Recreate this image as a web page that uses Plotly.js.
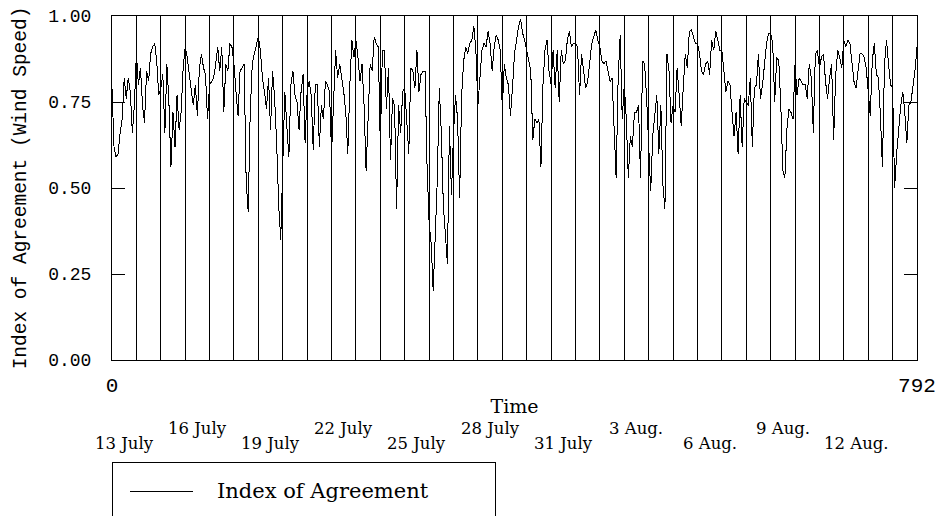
<!DOCTYPE html>
<html>
<head>
<meta charset="utf-8">
<script src="https://cdn.plot.ly/plotly-3.0.1.min.js"></script>
<style>html,body{margin:0;padding:0;background:#fff;}#chart{width:939px;height:516px;}
#chart .scatterlayer path, #chart .gridlayer path, #chart .shapelayer path {shape-rendering: crispEdges;}</style>
</head>
<body>
<div id="chart"></div>
<script>
// Index of Agreement (wind speed), read every 2 hours from 13 July (hour 0) to hour 792
const hourStep = 2;
const agreementValues = [
  0.79,0.62,0.59,0.60,0.66,0.70,0.82,0.76,0.82,0.78,0.66,0.74,
  0.89,0.80,0.85,0.74,0.69,0.84,0.81,0.89,0.91,0.92,0.87,0.77,
  0.79,0.83,0.66,0.86,0.75,0.56,0.72,0.62,0.77,0.67,0.72,0.85,
  0.91,0.88,0.83,0.78,0.74,0.80,0.71,0.85,0.89,0.85,0.83,0.70,
  0.80,0.81,0.82,0.86,0.91,0.84,0.91,0.72,0.86,0.84,0.92,0.91,
  0.86,0.78,0.71,0.84,0.85,0.86,0.52,0.43,0.72,0.86,0.89,0.92,
  0.94,0.90,0.82,0.78,0.73,0.82,0.67,0.84,0.76,0.63,0.45,0.35,
  0.58,0.78,0.68,0.59,0.80,0.84,0.77,0.75,0.67,0.78,0.83,0.63,
  0.78,0.81,0.77,0.61,0.80,0.80,0.62,0.74,0.70,0.81,0.80,0.78,
  0.60,0.73,0.90,0.82,0.86,0.82,0.78,0.72,0.60,0.80,0.93,0.88,
  0.93,0.88,0.81,0.86,0.74,0.55,0.70,0.86,0.84,0.94,0.92,0.91,
  0.62,0.90,0.90,0.73,0.85,0.58,0.76,0.74,0.44,0.74,0.66,0.78,
  0.79,0.68,0.60,0.85,0.84,0.79,0.90,0.78,0.83,0.84,0.84,0.56,
  0.40,0.34,0.20,0.36,0.52,0.79,0.66,0.45,0.36,0.28,0.68,0.48,
  0.66,0.77,0.70,0.47,0.77,0.87,0.91,0.89,0.92,0.93,0.97,0.90,
  0.74,0.82,0.90,0.92,0.91,0.955,0.92,0.84,0.91,0.945,0.93,0.90,
  0.73,0.86,0.82,0.80,0.71,0.79,0.89,0.93,0.97,0.99,0.95,0.93,
  0.90,0.88,0.84,0.64,0.70,0.69,0.70,0.56,0.80,0.90,0.93,0.84,
  0.80,0.90,0.79,0.90,0.75,0.90,0.86,0.87,0.93,0.955,0.91,0.92,
  0.92,0.91,0.77,0.89,0.84,0.79,0.81,0.87,0.92,0.94,0.96,0.93,
  0.91,0.87,0.86,0.87,0.84,0.81,0.82,0.68,0.53,0.82,0.945,0.70,
  0.80,0.70,0.53,0.65,0.62,0.72,0.72,0.74,0.53,0.87,0.86,0.76,
  0.63,0.49,0.65,0.72,0.77,0.60,0.74,0.51,0.44,0.89,0.84,0.69,
  0.74,0.72,0.85,0.77,0.68,0.79,0.89,0.85,0.955,0.96,0.94,0.92,
  0.92,0.89,0.84,0.83,0.86,0.87,0.83,0.93,0.90,0.955,0.93,0.90,
  0.90,0.83,0.78,0.81,0.80,0.72,0.65,0.72,0.60,0.77,0.62,0.76,
  0.75,0.74,0.82,0.62,0.79,0.80,0.89,0.76,0.80,0.86,0.92,0.95,
  0.95,0.92,0.75,0.88,0.87,0.74,0.55,0.53,0.67,0.73,0.72,0.70,
  0.86,0.77,0.82,0.81,0.80,0.80,0.76,0.86,0.82,0.66,0.89,0.90,
  0.85,0.88,0.89,0.81,0.76,0.82,0.86,0.64,0.83,0.90,0.88,0.85,
  0.93,0.91,0.93,0.92,0.87,0.81,0.79,0.84,0.89,0.89,0.88,0.85,
  0.79,0.71,0.87,0.92,0.83,0.82,0.71,0.56,0.86,0.93,0.86,0.80,
  0.79,0.50,0.60,0.67,0.74,0.78,0.72,0.63,0.74,0.75,0.80,0.84,0.91
];
const timeHours = agreementValues.map((_, i) => i * hourStep);

const xTickValues = [0, 792];
const xTickLabels = ['0', '792'];
const yTickValues = [0, 0.25, 0.5, 0.75, 1.0];
const yTickLabels = ['0.00', '0.25', '0.50', '0.75', '1.00'];

const dateLabels = ['13 July','16 July','19 July','22 July','25 July','28 July','31 July','3 Aug.','6 Aug.','9 Aug.','12 Aug.'];
const dateHours  = [12, 84, 156, 228, 300, 372, 444, 516, 588, 660, 732];

const seriesName = 'Index of Agreement';

const serif = 'DejaVu Serif, serif';
const mono = 'Liberation Mono, Courier New, monospace';

const trace = {
  x: timeHours, y: agreementValues, type: 'scatter', mode: 'lines',
  name: seriesName, line: {color: '#000', width: 1}, showlegend: false
};

const annotations = dateLabels.map((t, i) => ({
  text: t, x: dateHours[i], xref: 'x', yref: 'paper',
  y: (i % 2 === 0) ? -0.2413 : -0.1990,
  xanchor: 'center', yanchor: 'middle', showarrow: false,
  font: {family: serif, size: 16.5, color: '#000'}
}));
annotations.push({
  text: seriesName, xref: 'paper', yref: 'paper', x: 0.128, y: -0.381,
  xanchor: 'left', yanchor: 'middle', showarrow: false,
  font: {family: serif, size: 21, color: '#000'}
});

const layout = {
  width: 939, height: 516,
  margin: {l: 112, r: 22, t: 16, b: 156},
  paper_bgcolor: '#fff', plot_bgcolor: '#fff',
  showlegend: false,
  xaxis: {
    range: [0, 792], tickmode: 'array', tickvals: xTickValues, ticktext: xTickLabels,
    ticks: '', showgrid: false, zeroline: false,
    showline: true, linecolor: '#000', linewidth: 1, mirror: true,
    tickfont: {family: mono, size: 21, color: '#000'}, ticklabelstandoff: 6,
    minor: {dtick: 24, tick0: 0, showgrid: true, gridcolor: '#000', gridwidth: 1, ticks: ''},
    title: {text: 'Time', font: {family: serif, size: 19, color: '#000'}, standoff: 2}
  },
  yaxis: {
    range: [0, 1], tickmode: 'array', tickvals: yTickValues, ticktext: yTickLabels,
    ticks: 'inside', ticklen: 13, tickcolor: '#000', tickwidth: 1,
    showgrid: false, zeroline: false,
    showline: true, linecolor: '#000', linewidth: 1, mirror: 'ticks',
    tickfont: {family: mono, size: 18, color: '#000'}, ticklabelstandoff: 16,
    title: {text: 'Index of Agreement (Wind Speed)', font: {family: mono, size: 19.5, color: '#000'}, standoff: 16}
  },
  shapes: [
    {type: 'rect', xref: 'paper', yref: 'paper', x0: 0, x1: 0.477, y0: -0.2994, y1: -0.48,
     line: {color: '#000', width: 1}, fillcolor: 'rgba(0,0,0,0)'},
    {type: 'line', xref: 'paper', yref: 'paper', x0: 0.0224, x1: 0.1006, y0: -0.381, y1: -0.381,
     line: {color: '#000', width: 1}}
  ],
  annotations: annotations
};

Plotly.newPlot('chart', [trace], layout, {displayModeBar: false, staticPlot: true});
</script>
</body>
</html>
